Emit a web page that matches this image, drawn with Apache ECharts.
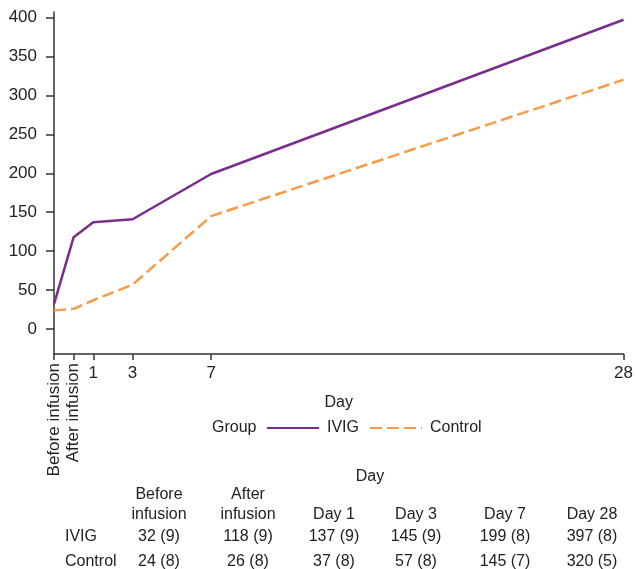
<!DOCTYPE html>
<html>
<head>
<meta charset="utf-8">
<script src="https://cdn.jsdelivr.net/npm/echarts@6/dist/echarts.min.js"></script>
<style>html,body{margin:0;padding:0;background:#fff}#c{width:636px;height:569px}</style>
</head>
<body>
<div id="c"></div>
<script>
// x positions (day): Before infusion = -1, After infusion = 0
const xValues = [-1, 0, 1, 3, 7, 28];
const xTickLabels = ['Before infusion', 'After infusion', '1', '3', '7', '28'];
const ivig = [32, 118, 137, 141, 199, 397];
const control = [24, 26, 37, 57, 145, 320];
const yTicks = [0, 50, 100, 150, 200, 250, 300, 350, 400];

const tableHeaders = ['Before\ninfusion', 'After\ninfusion', 'Day 1', 'Day 3', 'Day 7', 'Day 28'];
const tableIvig = ['32 (9)', '118 (9)', '137 (9)', '145 (9)', '199 (8)', '397 (8)'];
const tableControl = ['24 (8)', '26 (8)', '37 (8)', '57 (8)', '145 (7)', '320 (5)'];
const tableRowNames = ['IVIG', 'Control'];

const FONT = 'Liberation Sans, Arial, sans-serif';
const TXT = '#222';
const PURPLE = '#7B2C8C';
const ORANGE = '#F49C48';

const chart = echarts.init(document.getElementById('c'), null, {renderer: 'canvas'});

const colCenters = [159, 248, 334, 416, 505, 592];
const graphics = [];
graphics.push({type: 'text', x: 212, y: 428, style: {text: 'Group', font: '16px ' + FONT, fill: TXT, align: 'left', verticalAlign: 'middle'}});
graphics.push({type: 'text', x: 370, y: 477, style: {text: 'Day', font: '16px ' + FONT, fill: TXT, align: 'center', verticalAlign: 'middle'}});
tableHeaders.forEach((h, i) => {
  graphics.push({type: 'text', x: colCenters[i], y: 525, style: {text: h, font: '16px ' + FONT, fill: TXT, align: 'center', verticalAlign: 'bottom', lineHeight: 20}});
});
[tableIvig, tableControl].forEach((row, r) => {
  const y = 537 + r * 25;
  graphics.push({type: 'text', x: 65, y: y, style: {text: tableRowNames[r], font: '16px ' + FONT, fill: TXT, align: 'left', verticalAlign: 'middle'}});
  row.forEach((v, i) => {
    graphics.push({type: 'text', x: colCenters[i], y: y, style: {text: v, font: '16px ' + FONT, fill: TXT, align: 'center', verticalAlign: 'middle'}});
  });
});

chart.setOption({
  animation: false,
  backgroundColor: '#fff',
  textStyle: {fontFamily: FONT},
  grid: {left: 54, right: 11, top: 12, bottom: 569 - 354, containLabel: false},
  legend: {
    left: 266, top: 420,
    itemWidth: 52, itemHeight: 2, itemGap: 10,
    padding: 0,
    textStyle: {fontSize: 16, color: TXT, fontFamily: FONT, padding: [0, 0, 0, 3]},
    data: ['IVIG', 'Control']
  },
  xAxis: [{
    type: 'value', min: -1, max: 28,
    name: 'Day', nameLocation: 'middle', nameGap: 41,
    nameTextStyle: {fontSize: 16, color: TXT, fontFamily: FONT},
    axisLine: {show: true, onZero: false, lineStyle: {color: '#333', width: 1.5}},
    axisTick: {show: true, length: 6, lineStyle: {color: '#333', width: 1.5}, customValues: xValues},
    axisLabel: {fontSize: 17, color: TXT, margin: 11, customValues: xValues.slice(2),
      formatter: v => xTickLabels[xValues.indexOf(v)]},
    splitLine: {show: false}
  }, {
    type: 'value', min: -1, max: 28, position: 'bottom',
    axisLine: {show: false, onZero: false}, axisTick: {show: false}, splitLine: {show: false},
    axisLabel: {fontSize: 17, color: TXT, margin: 9, rotate: 90, customValues: xValues.slice(0, 2),
      formatter: v => xTickLabels[xValues.indexOf(v)]}
  }],
  yAxis: {
    type: 'value', min: -32, max: 407,
    axisLine: {show: true, onZero: false, lineStyle: {color: '#333', width: 1.5}},
    axisTick: {show: true, length: 8, lineStyle: {color: '#333', width: 1.5}, customValues: yTicks},
    axisLabel: {fontSize: 17, color: TXT, margin: 17, customValues: yTicks},
    splitLine: {show: false}
  },
  series: [{
    name: 'IVIG', type: 'line', symbol: 'none',
    data: xValues.map((x, i) => [x, ivig[i]]),
    lineStyle: {color: PURPLE, width: 2.5}, itemStyle: {color: PURPLE}
  }, {
    name: 'Control', type: 'line', symbol: 'none',
    data: xValues.map((x, i) => [x, control[i]]),
    lineStyle: {color: ORANGE, width: 2.5, type: [12, 5]}, itemStyle: {color: ORANGE}
  }],
  graphic: graphics
});
</script>
</body>
</html>
